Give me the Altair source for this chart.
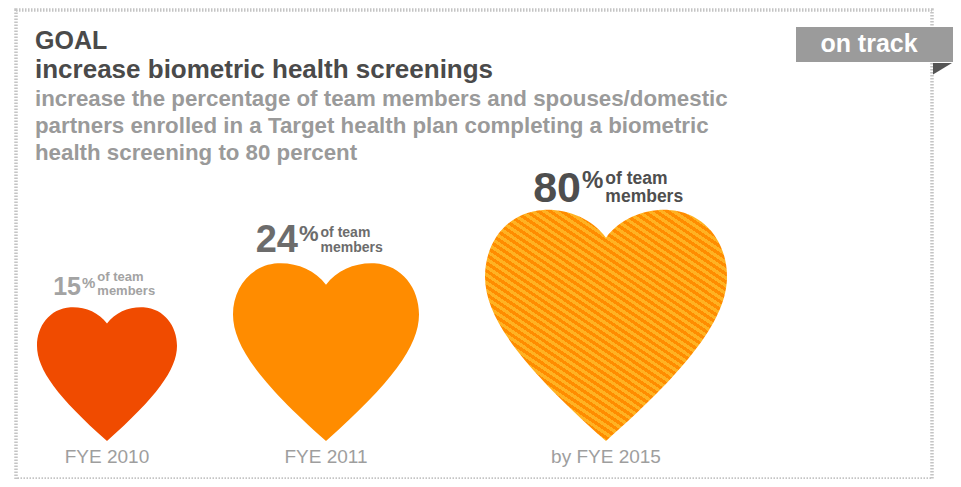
import altair as alt
import pandas as pd

# ---------------- data ----------------
periods = ["FYE 2010", "FYE 2011", "by FYE 2015"]
shares = [15, 24, 80]
unit_line1 = ["of team", "of team", "of team"]
unit_line2 = ["members", "members", "members"]
goal_head = "GOAL"
goal_name = "increase biometric health screenings"
goal_desc = [
    "increase the percentage of team members and spouses/domestic",
    "partners enrolled in a Target health plan completing a biometric",
    "health screening to 80 percent",
]
status_text = "on track"

df = pd.DataFrame({"period": periods, "share": shares, "u1": unit_line1, "u2": unit_line2})
one = pd.DataFrame({"k": [0]})

# ---------------- styles / layout ----------------
W, H = 916, 469
SANS = "Liberation Sans"
heart_colors = ["#F04B00", "#FF8C00"]
label_colors = ["#a3a3a3", "#6c6c6c", "#4e4e4e"]
center_x = [91, 310, 590]
heart_px = [140, 186, 242]
num_font = [25, 38, 43]
pct_font = [15, 22, 24]
unit_font = [13, 14, 17.5]
num_right = [65, 282, 565]
pct_left = [r + 1 for r in num_right]
unit_left = [p + 0.889 * f + 2 for p, f in zip(pct_left, pct_font)]
num_base = [285, 242, 192]
unit1_base = [b - f - 1 for b, f in zip(num_base, unit_font)]
pct_base = [b - 0.716 * (n - p) for b, n, p in zip(num_base, num_font, pct_font)]
TIP_Y = 431
LABEL_Y = 453

HEART = ("M0,-1.68 C-0.12,-1.84 -0.32,-1.92 -0.52,-1.91 "
         "C-0.82,-1.89 -1,-1.64 -1,-1.36 "
         "C-1,-1.02 -0.7,-0.62 0,0 "
         "C0.7,-0.62 1,-1.02 1,-1.36 "
         "C1,-1.64 0.82,-1.89 0.52,-1.91 "
         "C0.32,-1.92 0.12,-1.84 0,-1.68 Z")

light, dark = "#FFB222", "#FF8C00"
n_per = 50
stops = []
for i in range(n_per):
    a, b, c = i / n_per, (i + 0.5) / n_per, (i + 1) / n_per
    stops += [alt.GradientStop(color=light, offset=a), alt.GradientStop(color=light, offset=b),
              alt.GradientStop(color=dark, offset=b), alt.GradientStop(color=dark, offset=c)]
stripe = alt.Gradient(gradient="linear", stops=stops, x1=0.10, y1=1.07, x2=0.90, y2=-0.07)


def sc(rng):
    return alt.Scale(domain=shares, range=rng, zero=False, nice=False)


base = alt.Chart(df)
X = lambda rng: alt.X("share:Q", scale=sc(rng), axis=None)
Y = lambda rng: alt.Y("share:Q", scale=sc(rng), axis=None)
S = lambda rng: alt.Size("share:Q", scale=sc(rng), legend=None)
C = alt.Color("period:N", scale=alt.Scale(domain=periods, range=label_colors), legend=None)

hearts = base.transform_filter(alt.datum.period != periods[-1]).mark_point(
    shape=HEART, filled=True, opacity=1, strokeWidth=0
).encode(
    x=X(center_x), y=alt.value(TIP_Y), size=S([w * w for w in heart_px]),
    color=alt.Color("period:N", scale=alt.Scale(domain=periods[:2], range=heart_colors), legend=None),
)

goal_heart = base.transform_filter(alt.datum.period == periods[-1]).mark_point(
    shape=HEART, filled=True, fill=stripe, opacity=1, strokeWidth=0
).encode(x=X(center_x), y=alt.value(TIP_Y), size=S([w * w for w in heart_px]))

txt = dict(font=SANS, fontWeight="bold", baseline="alphabetic")
nums = base.mark_text(align="right", **txt).encode(
    x=X(num_right), y=Y(num_base), size=S(num_font), text=alt.Text("share:Q"), color=C)
pct = base.mark_text(text="%", align="left", **txt).encode(
    x=X(pct_left), y=Y(pct_base), size=S(pct_font), color=C)
unit1 = base.mark_text(align="left", **txt).encode(
    x=X(unit_left), y=Y(unit1_base), size=S(unit_font), text="u1:N", color=C)
unit2 = base.mark_text(align="left", **txt).encode(
    x=X(unit_left), y=Y(num_base), size=S(unit_font), text="u2:N", color=C)

period_labels = base.mark_text(font=SANS, fontSize=19, color="#9e9e9e", align="center",
                               baseline="alphabetic").encode(
    x=X(center_x), y=alt.value(LABEL_Y), text="period:N")

deco = alt.Chart(one)
t_head = deco.mark_text(text=goal_head, font=SANS, fontSize=25, fontWeight="bold", color="#4a4a4a",
                        align="left", baseline="alphabetic").encode(x=alt.value(19), y=alt.value(39))
t_name = deco.mark_text(text=goal_name, font=SANS, fontSize=26, fontWeight="bold", color="#4a4a4a",
                        align="left", baseline="alphabetic").encode(x=alt.value(19), y=alt.value(68))
t_desc = deco.mark_text(text=goal_desc, font=SANS, fontSize=22.3, fontWeight="bold", color="#9a9a9a",
                        align="left", baseline="alphabetic", lineHeight=27).encode(
    x=alt.value(19), y=alt.value(96))
banner = deco.mark_rect(color="#9b9b9b").encode(
    x=alt.value(780), x2=alt.value(937), y=alt.value(17), y2=alt.value(52))
banner_txt = deco.mark_text(text=status_text, font=SANS, fontSize=25, fontWeight="bold", color="white",
                            align="center", baseline="alphabetic").encode(x=alt.value(853), y=alt.value(42))
fold = deco.mark_point(shape="M0,0 L1,0 L0,0.6 Z", filled=True, fill="#555555", opacity=1,
                       size=1444, strokeWidth=0).encode(x=alt.value(917), y=alt.value(53))

chart = alt.layer(
    banner, fold, banner_txt, t_head, t_name, t_desc,
    hearts, goal_heart, nums, pct, unit1, unit2, period_labels,
).resolve_scale(
    x="independent", y="independent", size="independent", color="independent"
).properties(
    width=W, height=H,
    autosize=alt.AutoSizeParams(type="none"),
    padding={"left": 8, "top": 2, "right": 21, "bottom": 0},
    background="white",
).configure_view(stroke="#c4c4c4", strokeWidth=3.5, strokeDash=[1.5, 1.5])

chart.save("out.html", embed_options={"renderer": "svg", "actions": False})
